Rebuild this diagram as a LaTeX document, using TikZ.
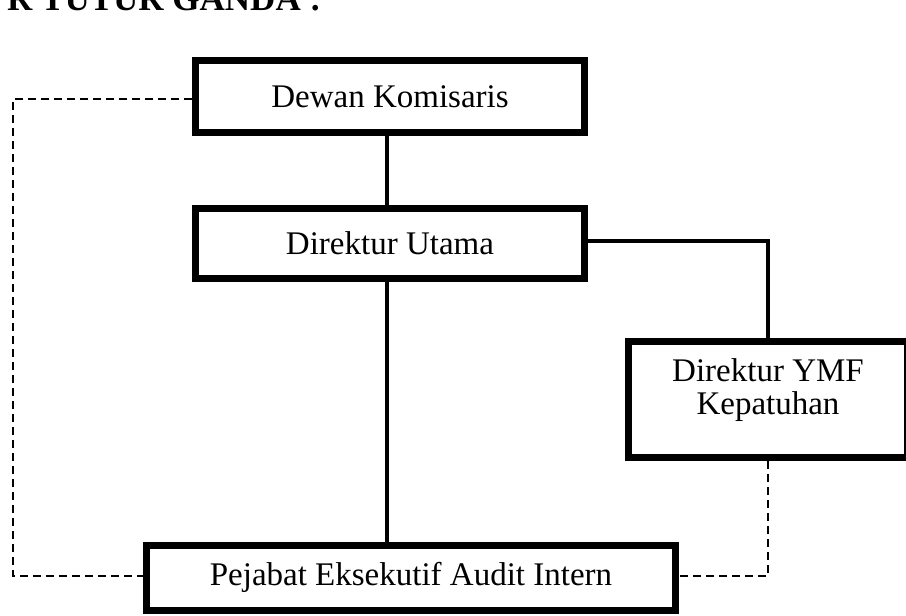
\documentclass[tikz,border=0pt]{standalone}
\usepackage{fontspec}
\setmainfont{Liberation Serif}
\begin{document}
\begin{tikzpicture}[x=1pt,y=-1pt,
  orgbox/.style={draw=black,line width=7pt,fill=white,inner sep=0pt,
    font=\fontsize{33}{36}\selectfont},
  orgtext/.style={inner sep=0pt,align=center,font=\fontsize{33}{33}\selectfont},
  solidlink/.style={draw=black,line width=3.5pt},
  dashlink/.style={draw=black,line width=2.8pt,dash pattern=on 8pt off 5pt},
  titletext/.style={inner sep=0pt,font=\fontsize{35}{40}\selectfont\bfseries}]
\useasboundingbox (0,0) rectangle (906,616);
\clip (0,0) rectangle (906,616);
\fill[white] (0,0) rectangle (906,616);

% title (cut by the top edge, as in the scan)
\node[titletext,anchor=base west] (title) at (7,10) {R TUTUR GANDA :};

% helper coordinates
\coordinate (trunk) at (387,0);
\coordinate (leftrail) at (13,0);
\coordinate (dashy) at (0,576);

% boxes (placed first so the links can use their anchors)
\node[orgbox,minimum width=389pt,minimum height=72pt] (dk) at (390,96.5) {};
\node[orgbox,minimum width=389pt,minimum height=70pt] (du) at (390,243.5) {};
\node[orgbox,minimum width=279pt,minimum height=116pt] (ymf) at (768,399.5) {};
\node[orgbox,minimum width=529pt,minimum height=65pt] (pea) at (411,577.5) {};

% links
\draw[solidlink] (dk.south -| trunk) -- (du.north -| trunk);
\draw[solidlink] (du.south -| trunk) -- (pea.north -| trunk);
\draw[solidlink] (du.east |- 0,241) -| (ymf.north);
\draw[dashlink] (dk.west |- 0,99) -| (dashy -| leftrail) -- (pea.west |- dashy);
\draw[dashlink] (ymf.south) |- (pea.east |- dashy);

% boxes with their texts, on top of the links
\node[orgbox,minimum width=389pt,minimum height=72pt] (dkb) at (390,96.5) {Dewan Komisaris};
\node[orgbox,minimum width=389pt,minimum height=70pt] (dub) at (390,243.5) {Direktur Utama};
\node[orgbox,minimum width=279pt,minimum height=116pt] (ymfb) at (768,399.5) {};
\node[orgtext] (ymft) at (768,390) {Direktur YMF\\Kepatuhan};
\node[orgbox,minimum width=529pt,minimum height=65pt] (peab) at (411,577.5) {Pejabat Eksekutif Audit Intern};
\end{tikzpicture}
\end{document}
